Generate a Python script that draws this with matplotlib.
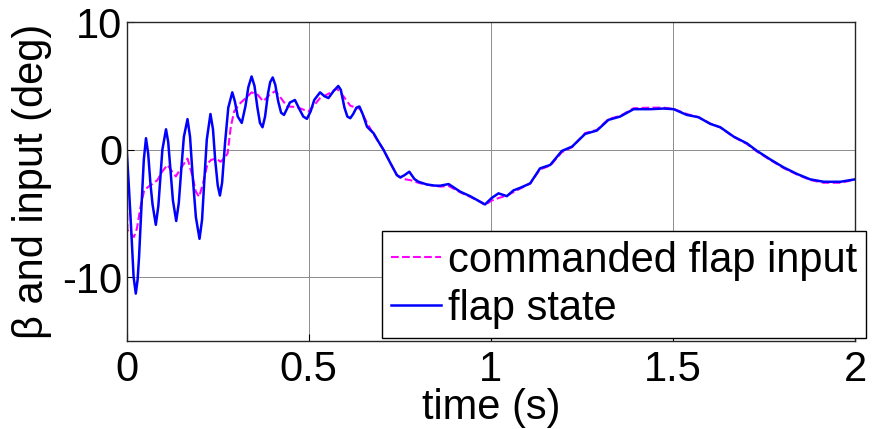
import numpy as np
import matplotlib.pyplot as plt

plt.rcParams['font.family'] = ['Liberation Sans', 'DejaVu Sans']
plt.rcParams['axes.unicode_minus'] = False

# flap state (solid blue)
t_state = [0.000, 0.006, 0.013, 0.019, 0.025, 0.030, 0.034, 0.040, 0.047, 0.053,
           0.059, 0.065, 0.071, 0.080, 0.087, 0.093, 0.098, 0.108, 0.114, 0.120,
           0.127, 0.136, 0.143, 0.150, 0.157, 0.167, 0.174, 0.181, 0.190, 0.200,
           0.207, 0.213, 0.220, 0.230, 0.237, 0.243, 0.250, 0.256, 0.262, 0.270,
           0.279, 0.290, 0.297, 0.305, 0.316, 0.326, 0.334, 0.343, 0.351, 0.359,
           0.366, 0.373, 0.380, 0.388, 0.394, 0.401, 0.408, 0.416, 0.424, 0.432,
           0.440, 0.448, 0.462, 0.474, 0.485, 0.495, 0.505, 0.515, 0.531, 0.543,
           0.554, 0.568, 0.581, 0.588, 0.598, 0.606, 0.614, 0.622, 0.631, 0.639,
           0.648, 0.660, 0.678, 0.692, 0.705, 0.725, 0.742, 0.751, 0.763, 0.776,
           0.790, 0.801, 0.824, 0.845, 0.861, 0.884, 0.900, 0.916, 0.943, 0.971,
           0.984, 1.002, 1.021, 1.044, 1.062, 1.081, 1.108, 1.135, 1.163, 1.195,
           1.223, 1.259, 1.291, 1.323, 1.355, 1.392, 1.438, 1.474, 1.502, 1.538,
           1.570, 1.603, 1.630, 1.667, 1.703, 1.731, 1.767, 1.804, 1.841, 1.877,
           1.914, 1.960, 2.000]
beta_state = [0.0, -2.9, -6.6, -10.0, -11.3, -10.2, -8.4, -4.8, -0.8, 0.9,
              -0.3, -2.6, -4.3, -5.9, -4.4, -2.0, 0.0, 1.6, 0.6, -1.5,
              -4.0, -5.6, -4.2, -1.5, 1.0, 2.4, 1.0, -2.0, -5.3, -7.0,
              -5.5, -2.5, 0.8, 2.8, 1.6, -0.8, -2.8, -3.6, -2.6, 0.5,
              3.3, 4.5, 3.8, 2.6, 2.1, 3.4, 4.9, 5.75, 5.0, 3.3,
              2.1, 1.76, 2.6, 4.4, 5.3, 5.67, 5.1, 3.8, 2.9, 2.73,
              3.2, 3.7, 3.9, 3.2, 2.6, 2.42, 3.0, 3.9, 4.5, 4.2,
              4.05, 4.6, 5.0, 4.7, 3.3, 2.6, 2.47, 2.8, 3.3, 3.39,
              2.8, 1.8, 1.29, 0.6, 0.0, -1.1, -2.0, -2.18, -2.0, -1.73,
              -2.3, -2.52, -2.73, -2.82, -2.83, -2.7, -3.0, -3.3, -3.65, -4.09,
              -4.3, -3.8, -3.43, -3.65, -3.2, -2.99, -2.65, -1.47, -1.2, -0.1,
              0.24, 1.24, 1.5, 2.34, 2.6, 3.18, 3.18, 3.23, 3.18, 2.73,
              2.55, 2.02, 1.76, 1.02, 0.5, -0.1, -0.76, -1.39, -1.91, -2.33,
              -2.52, -2.52, -2.33]

# commanded flap input (dashed magenta)
t_cmd = [0.000, 0.002, 0.010, 0.020, 0.028, 0.038, 0.048, 0.060, 0.070, 0.084,
         0.098, 0.112, 0.124, 0.135, 0.150, 0.167, 0.178, 0.190, 0.199, 0.210,
         0.222, 0.232, 0.246, 0.258, 0.270, 0.277, 0.286, 0.295, 0.310, 0.325,
         0.343, 0.360, 0.375, 0.392, 0.408, 0.425, 0.440, 0.467, 0.499, 0.515,
         0.531, 0.555, 0.577, 0.595, 0.614, 0.641, 0.660, 0.678, 0.705, 0.725,
         0.742, 0.760, 0.780, 0.801, 0.824, 0.861, 0.884, 0.916, 0.943, 0.971,
         0.984, 1.002, 1.021, 1.044, 1.081, 1.108, 1.135, 1.163, 1.195, 1.223,
         1.259, 1.291, 1.323, 1.355, 1.392, 1.438, 1.474, 1.502, 1.538, 1.570,
         1.603, 1.630, 1.667, 1.703, 1.731, 1.767, 1.804, 1.841, 1.877, 1.914,
         1.960, 2.000]
beta_cmd = [-1.5, -6.3, -6.6, -6.85, -6.2, -4.5, -3.2, -2.9, -2.7, -2.4,
            -1.7, -1.2, -1.7, -2.1, -1.4, -0.7, -1.8, -3.3, -3.7, -2.6,
            -1.1, -0.8, -0.7, -0.95, -0.6, -0.3, 1.8, 3.0, 3.6, 4.0,
            4.5, 4.3, 3.8, 4.3, 4.6, 4.0, 3.4, 3.34, 3.0, 3.5,
            4.05, 4.4, 4.8, 4.2, 3.45, 3.2, 2.1, 1.2, 0.0, -1.1,
            -2.0, -2.3, -2.4, -2.6, -2.75, -2.9, -2.85, -3.35, -3.7, -4.1,
            -4.35, -4.0, -3.8, -3.6, -3.05, -2.65, -1.55, -1.25, -0.2, 0.2,
            1.3, 1.55, 2.4, 2.65, 3.25, 3.3, 3.3, 3.2, 2.8, 2.55,
            2.05, 1.75, 1.0, 0.45, -0.15, -0.8, -1.45, -1.95, -2.38, -2.6,
            -2.6, -2.35]

x_ticks = [0, 0.5, 1, 1.5, 2]
x_labels = ['0', '0.5', '1', '1.5', '2']
y_ticks = [-10, 0, 10]
fs = 30

fig = plt.figure(figsize=(8.81, 4.29), dpi=100)
ax = fig.add_axes([0.1438, 0.2058, 0.8267, 0.7422])

ax.plot(t_cmd, beta_cmd, '--', color='#FF00FF', lw=1.5, label='commanded flap input')
ax.plot(t_state, beta_state, '-', color='#0000FF', lw=1.8, label='flap state')

ax.set_xlim(0, 2)
ax.set_ylim(-15, 10)
ax.set_xticks(x_ticks)
ax.set_xticklabels(x_labels)
ax.set_yticks(y_ticks)
ax.grid(True, color='0.55', lw=0.7)
ax.tick_params(direction='in', length=5, labelsize=fs, width=0.8)
ax.tick_params(axis='x', pad=7)
ax.tick_params(axis='y', pad=3)
for s in ax.spines.values():
    s.set_linewidth(1.0)
    s.set_color('0.15')

ax.set_xlabel('time (s)', fontsize=fs, labelpad=-2)
ax.set_ylabel('β and input (deg)', fontsize=fs)
ax.yaxis.set_label_coords(-0.103, 0.5)

leg = ax.legend(loc='lower right', bbox_to_anchor=(0.983, 0.212),
                bbox_transform=fig.transFigure, fontsize=fs, fancybox=False,
                framealpha=1, edgecolor='black', borderaxespad=0,
                handlelength=1.2, handletextpad=0.15, borderpad=0.22,
                labelspacing=0.2)
leg.get_frame().set_linewidth(1.0)

plt.savefig('out.png', dpi=100)
